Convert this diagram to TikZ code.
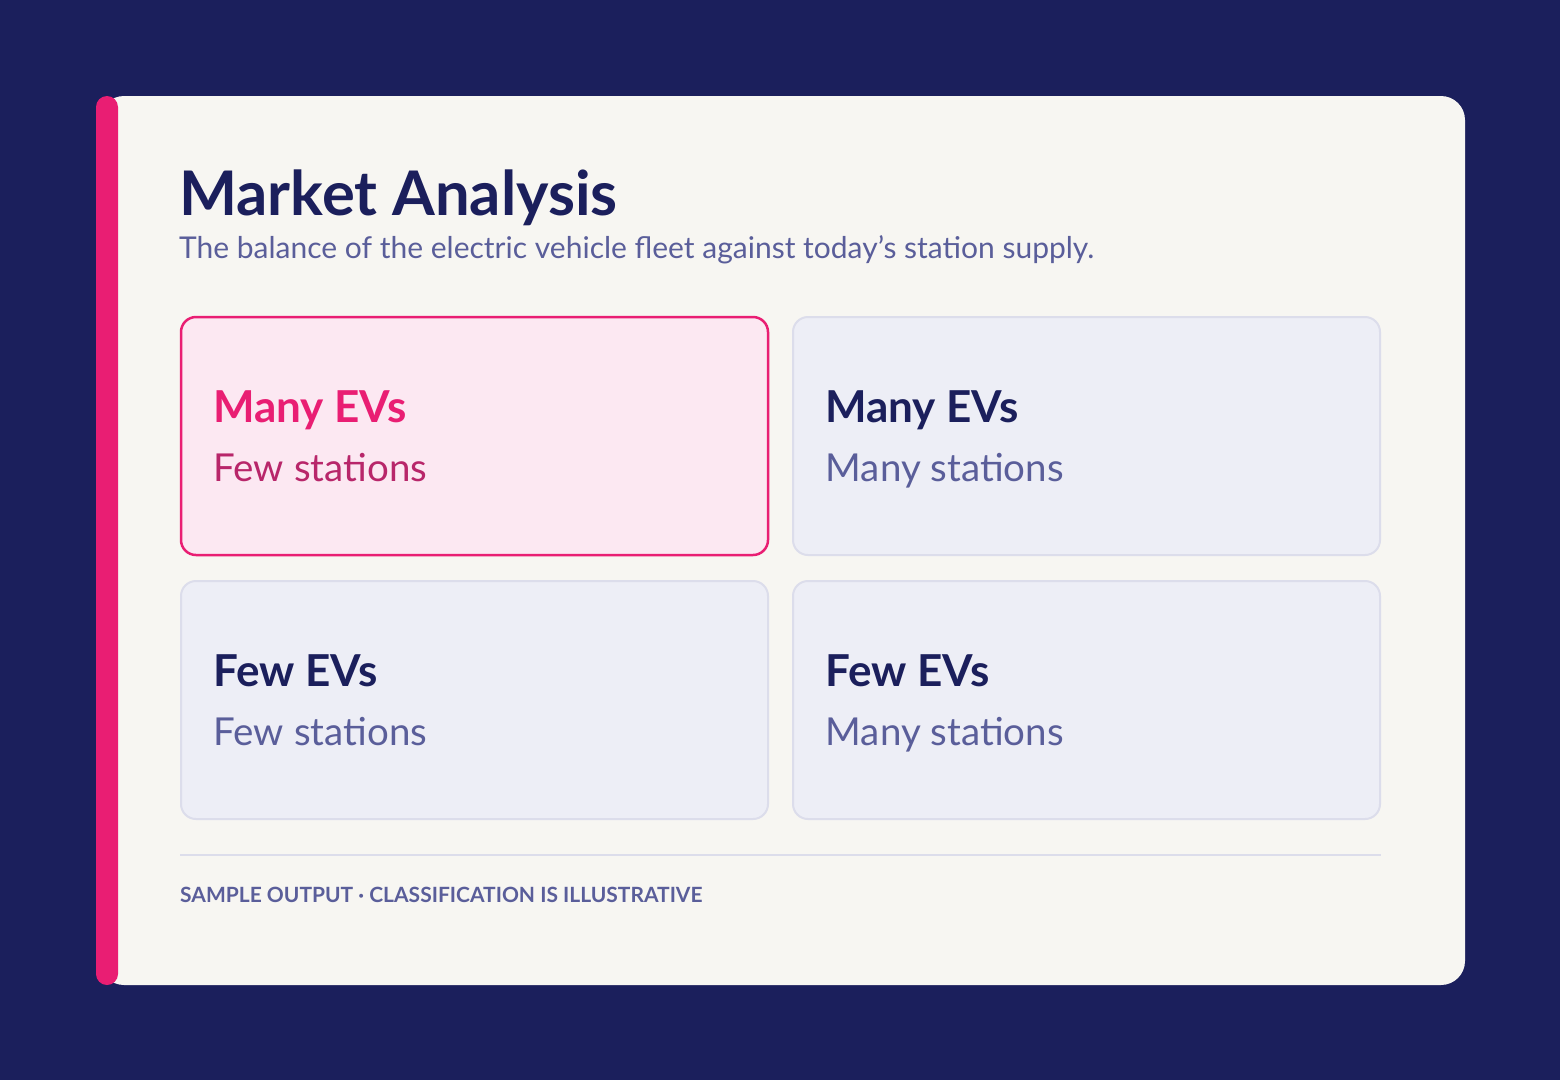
\documentclass[tikz,border=0pt]{standalone}
\usepackage{fontspec}
\setmainfont{Lato}
\usepackage{xcolor}
\definecolor{navy}{HTML}{1B1F5C}
\definecolor{hotpink}{HTML}{E91E73}
\definecolor{deeppink}{HTML}{B8266A}
\definecolor{muted}{HTML}{5A5E9A}
\definecolor{paper}{HTML}{F7F6F2}
\definecolor{pinkfill}{HTML}{FCE8F2}
\definecolor{cellfill}{HTML}{EDEEF6}
\definecolor{cellline}{HTML}{DCDDEB}

\begin{document}
\begin{tikzpicture}[x=1pt,y=-1pt,
  txt/.style={inner sep=0pt,anchor=base west},
  cell/.style={rounded corners=15pt,fill=cellfill,draw=cellline,line width=2pt},
  hotcell/.style={cell,fill=pinkfill,draw=hotpink,line width=2.5pt},
  head/.style={txt,font=\fontsize{44}{48}\selectfont\bfseries,text=navy},
  sub/.style={txt,font=\fontsize{38.5}{42}\selectfont,text=muted}]
\useasboundingbox (0,0) rectangle (1560,1080);
\fill [navy] (0,0) rectangle (1560,1080);
% card
\fill [paper,rounded corners=24pt] (100,96) rectangle (1465,985);
\fill [hotpink,rounded corners=11pt] (96,96) rectangle (118,985);
% heading
\node [txt,font=\fontsize{61.5}{66}\selectfont\bfseries,text=navy] (title) at (179,215) {Market Analysis};
\node [txt,font=\fontsize{30}{34}\selectfont,text=muted] (subtitle) at (179,258) {The balance of the electric vehicle fleet against today’s station supply.};
% the four cells
\draw [hotcell] (181,317) rectangle (768,555);
\draw [cell] (793,317) rectangle (1380,555);
\draw [cell] (181,581) rectangle (768,819);
\draw [cell] (793,581) rectangle (1380,819);
\node [head,text=hotpink] (hh) at (213,422) {Many EVs};
\node [sub,text=deeppink] (hs) at (213.5,481) {Few stations};
\node [head] (mh) at (825,422) {Many EVs};
\node [sub] (ms) at (825.5,481) {Many stations};
\node [head] (fh) at (213,686) {Few EVs};
\node [sub] (fs) at (213.5,745) {Few stations};
\node [head] (gh) at (825,686) {Few EVs};
\node [sub] (gs) at (825.5,745) {Many stations};
% footer
\draw [cellline,line width=2pt] (180,855) -- (1381,855);
\node [txt,font=\fontsize{21}{25}\selectfont\bfseries,text=muted] (note) at (180,902) {SAMPLE OUTPUT · CLASSIFICATION IS ILLUSTRATIVE};
\end{tikzpicture}
\end{document}
